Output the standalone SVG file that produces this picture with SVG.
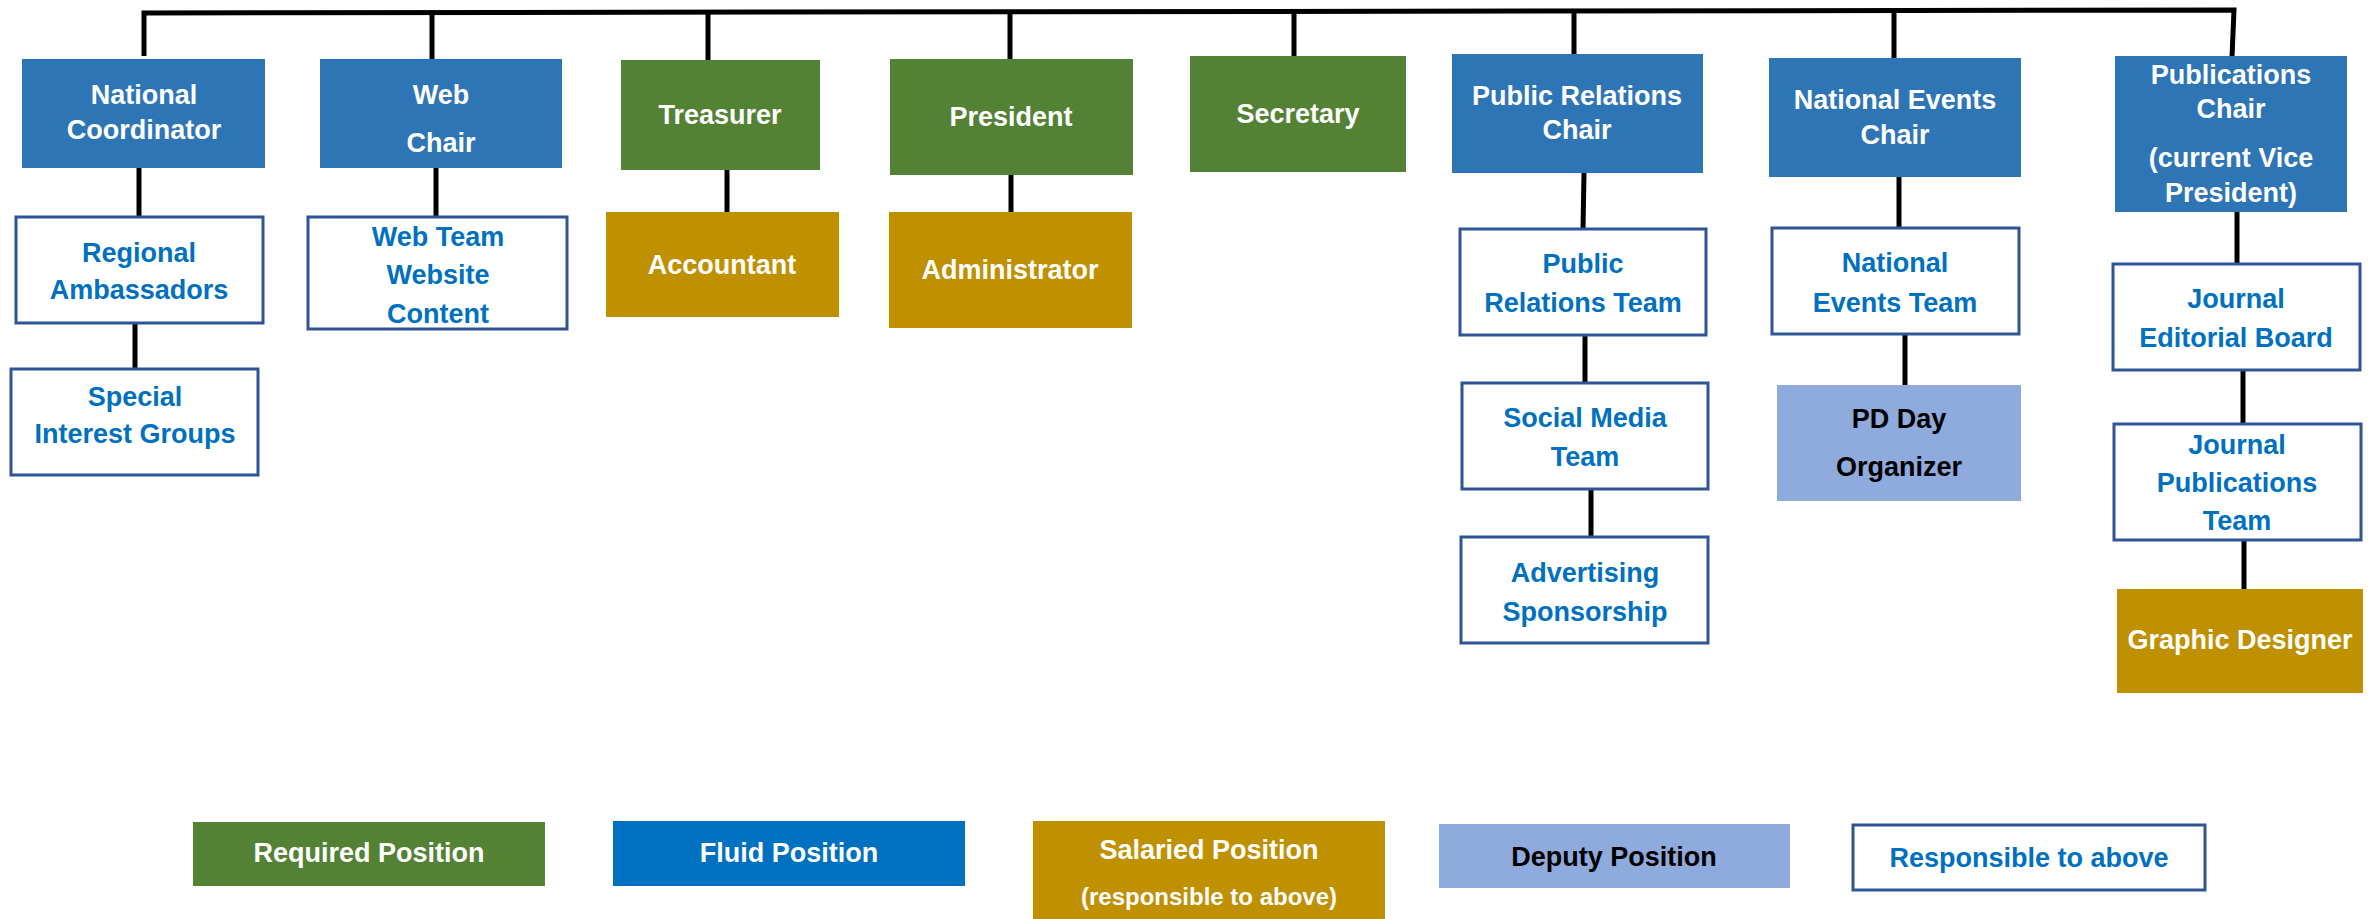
<svg xmlns="http://www.w3.org/2000/svg" width="2379" height="919" viewBox="0 0 2379 919">
<style>
text{font-family:"Liberation Sans",Arial,sans-serif;font-weight:bold;font-size:27px;text-anchor:middle}
.fluid{fill:#2E75B6}
.req{fill:#548235}
.sal{fill:#BF9000}
.dep{fill:#8FAADC}
.resp{fill:#FFFFFF;stroke:#2F5597;stroke-width:3}
.w{fill:#FFFFFF}
.b{fill:#0070C0}
.k{fill:#000000}
.conn{stroke:#000;stroke-width:5;fill:none}
</style>
<rect width="2379" height="919" fill="#FFFFFF"/>
<g id="connectors" class="conn">
<path d="M144,56 L144,13 L2234,10 L2232,57"/>
<line x1="432" y1="12" x2="432" y2="62"/>
<line x1="708" y1="12" x2="708" y2="60"/>
<line x1="1010" y1="12" x2="1010" y2="59"/>
<line x1="1294" y1="11" x2="1294" y2="56"/>
<line x1="1574" y1="11" x2="1574" y2="55"/>
<line x1="1894" y1="11" x2="1894" y2="59"/>
<line x1="139" y1="168" x2="139" y2="217"/>
<line x1="135" y1="323" x2="135" y2="369"/>
<line x1="436" y1="168" x2="436" y2="217"/>
<line x1="727" y1="170" x2="727" y2="212"/>
<line x1="1011" y1="175" x2="1011" y2="212"/>
<line x1="1584" y1="173" x2="1583" y2="229"/>
<line x1="1585" y1="335" x2="1585" y2="383"/>
<line x1="1591" y1="489" x2="1591" y2="537"/>
<line x1="1899" y1="177" x2="1899" y2="228"/>
<line x1="1905" y1="334" x2="1905" y2="385"/>
<line x1="2237" y1="212" x2="2237" y2="264"/>
<line x1="2243" y1="370" x2="2243" y2="424"/>
<line x1="2244" y1="540" x2="2244" y2="589"/>
</g>
<g id="national-coordinator"><rect class="fluid" x="22" y="59" width="243" height="109"/><text class="w" x="144" y="104">National</text><text class="w" x="144" y="139">Coordinator</text></g>
<g id="web-chair"><rect class="fluid" x="320" y="59" width="242" height="109"/><text class="w" x="441" y="104">Web</text><text class="w" x="441" y="152">Chair</text></g>
<g id="treasurer"><rect class="req" x="621" y="60" width="199" height="110"/><text class="w" x="720" y="124">Treasurer</text></g>
<g id="accountant"><rect class="sal" x="606" y="212" width="233" height="105"/><text class="w" x="722" y="274">Accountant</text></g>
<g id="regional-ambassadors"><rect class="resp" x="16" y="217" width="247" height="106"/><text class="b" x="139" y="262">Regional</text><text class="b" x="139" y="299">Ambassadors</text></g>
<g id="special-interest-groups"><rect class="resp" x="11" y="369" width="247" height="106"/><text class="b" x="135" y="406">Special</text><text class="b" x="135" y="443">Interest Groups</text></g>
<g id="web-team"><rect class="resp" x="308" y="217" width="259" height="112"/><text class="b" x="438" y="246">Web Team</text><text class="b" x="438" y="284">Website</text><text class="b" x="438" y="323">Content</text></g>
<g id="president"><rect class="req" x="890" y="59" width="243" height="116"/><text class="w" x="1011" y="126">President</text></g>
<g id="administrator"><rect class="sal" x="889" y="212" width="243" height="116"/><text class="w" x="1010" y="279">Administrator</text></g>
<g id="secretary"><rect class="req" x="1190" y="56" width="216" height="116"/><text class="w" x="1298" y="123">Secretary</text></g>
<g id="public-relations-chair"><rect class="fluid" x="1452" y="54" width="251" height="119"/><text class="w" x="1577" y="105">Public Relations</text><text class="w" x="1577" y="139">Chair</text></g>
<g id="public-relations-team"><rect class="resp" x="1460" y="229" width="246" height="106"/><text class="b" x="1583" y="273">Public</text><text class="b" x="1583" y="312">Relations Team</text></g>
<g id="social-media-team"><rect class="resp" x="1462" y="383" width="246" height="106"/><text class="b" x="1585" y="427">Social Media</text><text class="b" x="1585" y="466">Team</text></g>
<g id="advertising-sponsorship"><rect class="resp" x="1461" y="537" width="247" height="106"/><text class="b" x="1585" y="582">Advertising</text><text class="b" x="1585" y="621">Sponsorship</text></g>
<g id="national-events-chair"><rect class="fluid" x="1769" y="58" width="252" height="119"/><text class="w" x="1895" y="109">National Events</text><text class="w" x="1895" y="144">Chair</text></g>
<g id="national-events-team"><rect class="resp" x="1772" y="228" width="247" height="106"/><text class="b" x="1895" y="272">National</text><text class="b" x="1895" y="312">Events Team</text></g>
<g id="pd-day-organizer"><rect class="dep" x="1777" y="385" width="244" height="116"/><text class="k" x="1899" y="428">PD Day</text><text class="k" x="1899" y="476">Organizer</text></g>
<g id="publications-chair"><rect class="fluid" x="2115" y="56" width="232" height="156"/><text class="w" x="2231" y="84">Publications</text><text class="w" x="2231" y="118">Chair</text><text class="w" x="2231" y="167">(current Vice</text><text class="w" x="2231" y="202">President)</text></g>
<g id="journal-editorial-board"><rect class="resp" x="2113" y="264" width="247" height="106"/><text class="b" x="2236" y="308">Journal</text><text class="b" x="2236" y="347">Editorial Board</text></g>
<g id="journal-publications-team"><rect class="resp" x="2114" y="424" width="247" height="116"/><text class="b" x="2237" y="454">Journal</text><text class="b" x="2237" y="492">Publications</text><text class="b" x="2237" y="530">Team</text></g>
<g id="graphic-designer"><rect class="sal" x="2117" y="589" width="246" height="104"/><text class="w" x="2240" y="649">Graphic Designer</text></g>
<g id="legend">
<g id="legend-required"><rect class="req" x="193" y="822" width="352" height="64"/><text class="w" x="369" y="862">Required Position</text></g>
<g id="legend-fluid"><rect x="613" y="821" width="352" height="65" fill="#0070C0"/><text class="w" x="789" y="862">Fluid Position</text></g>
<g id="legend-salaried"><rect class="sal" x="1033" y="821" width="352" height="98"/><text class="w" x="1209" y="859">Salaried Position</text><text class="w" x="1209" y="905" style="font-size:24px">(responsible to above)</text></g>
<g id="legend-deputy"><rect class="dep" x="1439" y="824" width="351" height="64"/><text class="k" x="1614" y="866">Deputy Position</text></g>
<g id="legend-responsible"><rect class="resp" x="1853" y="825" width="352" height="65"/><text class="b" x="2029" y="867">Responsible to above</text></g>
</g>
</svg>
